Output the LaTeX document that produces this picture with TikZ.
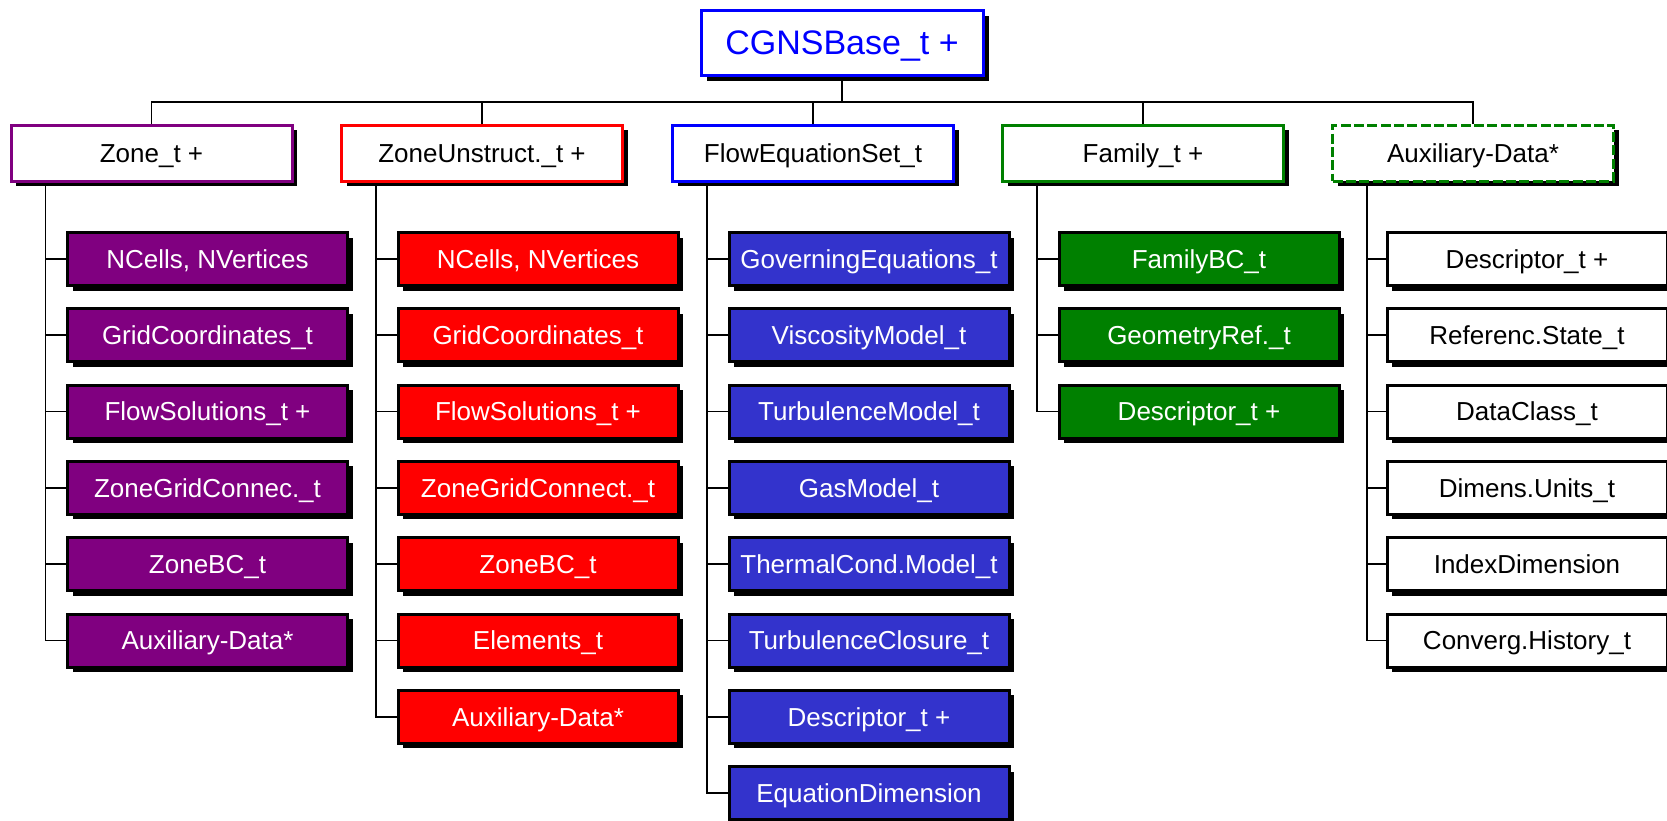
\documentclass[tikz,border=0pt]{standalone}
\usepackage{fontspec}
\setmainfont{Liberation Sans}
\usetikzlibrary{shadows}
\pgfdeclarelayer{background}
\pgfsetlayers{background,main}
\definecolor{zonepurple}{RGB}{128,0,128}
\definecolor{unsred}{RGB}{255,0,0}
\definecolor{flowblue}{RGB}{51,51,204}
\definecolor{famgreen}{RGB}{0,128,0}
\definecolor{rootblue}{RGB}{0,0,255}
\begin{document}
\begin{tikzpicture}[x=0.75pt,y=-0.75pt,
  rootbox/.style={rectangle, inner sep=0pt, line width=2.25pt, draw=rootblue, fill=white,
    text=rootblue, minimum width=211.5pt, minimum height=48.75pt,
    font=\fontsize{25.5}{30}\selectfont, text height=18.3pt, text depth=0pt,
    drop shadow={shadow xshift=4.5pt, shadow yshift=-4.5pt, fill=black, opacity=1}},
  header/.style={rectangle, inner sep=0pt, line width=2.25pt, draw=#1, fill=white,
    text=black, minimum width=210.75pt, minimum height=42pt,
    font=\fontsize{19.5}{23}\selectfont, text height=14pt, text depth=0pt,
    drop shadow={shadow xshift=3.75pt, shadow yshift=-3.75pt, fill=black, opacity=1}},
  kid/.style={rectangle, inner sep=0pt, line width=2.25pt, draw=black, fill=#1,
    text=white, minimum width=210pt, minimum height=39.75pt,
    font=\fontsize{19.5}{23}\selectfont, text height=14pt, text depth=0pt,
    drop shadow={shadow xshift=3.75pt, shadow yshift=-3.75pt, fill=black, opacity=1}},
  link/.style={draw=black, line width=1.3pt}]
\useasboundingbox (0,0) rectangle (1667,821);

% root and the five branches
\node[rootbox] (root) at (842,42.5) {CGNSBase\_t +};
\node[header=zonepurple] (hz) at (151.5,153) {Zone\_t +};
\node[header=unsred] (hu) at (482,153) {ZoneUnstruct.\_t +};
\node[header=rootblue] (hf) at (813,153) {FlowEquationSet\_t};
\node[header=famgreen] (hm) at (1143,153) {Family\_t +};
\node[header=famgreen, dash pattern=on 7.5pt off 2.5pt] (ha) at (1473,153) {Auxiliary-Data*};

% children of each branch
\foreach \lbl [count=\i] in {{NCells, NVertices},GridCoordinates\_t,FlowSolutions\_t +,
    ZoneGridConnec.\_t,ZoneBC\_t,Auxiliary-Data*}
  \node[kid=zonepurple] (z\i) at (207.5,{259+76.3*(\i-1)}) {\lbl};
\foreach \lbl [count=\i] in {{NCells, NVertices},GridCoordinates\_t,FlowSolutions\_t +,
    ZoneGridConnect.\_t,ZoneBC\_t,Elements\_t,Auxiliary-Data*}
  \node[kid=unsred] (u\i) at (538,{259+76.3*(\i-1)}) {\lbl};
\foreach \lbl [count=\i] in {GoverningEquations\_t,ViscosityModel\_t,TurbulenceModel\_t,
    GasModel\_t,ThermalCond.Model\_t,TurbulenceClosure\_t,Descriptor\_t +,EquationDimension}
  \node[kid=flowblue] (f\i) at (869,{259+76.3*(\i-1)}) {\lbl};
\foreach \lbl [count=\i] in {FamilyBC\_t,GeometryRef.\_t,Descriptor\_t +}
  \node[kid=famgreen] (m\i) at (1199,{259+76.3*(\i-1)}) {\lbl};
\foreach \lbl [count=\i] in {Descriptor\_t +,Referenc.State\_t,DataClass\_t,
    Dimens.Units\_t,IndexDimension,Converg.History\_t}
  \node[kid=white, text=black] (a\i) at (1527,{259+76.3*(\i-1)}) {\lbl};

% trunk tops below each branch box
\coordinate (tz) at (45.5,181);
\coordinate (tu) at (376,181);
\coordinate (tf) at (707,181);
\coordinate (tm) at (1037,181);
\coordinate (ta) at (1367,181);
\coordinate (bus) at (842,102);

\begin{pgfonlayer}{background}
  \draw[link] (root.south) -- (bus);
  \foreach \h in {hz,hu,hf,hm,ha}
    \draw[link] (\h.north) |- (bus);
  \draw[link] (tz) |- (z6.west);
  \foreach \i in {1,...,5} \draw[link] (z\i.west) -- (z\i.west -| tz);
  \draw[link] (tu) |- (u7.west);
  \foreach \i in {1,...,6} \draw[link] (u\i.west) -- (u\i.west -| tu);
  \draw[link] (tf) |- (f8.west);
  \foreach \i in {1,...,7} \draw[link] (f\i.west) -- (f\i.west -| tf);
  \draw[link] (tm) |- (m3.west);
  \foreach \i in {1,2} \draw[link] (m\i.west) -- (m\i.west -| tm);
  \draw[link] (ta) |- (a6.west);
  \foreach \i in {1,...,5} \draw[link] (a\i.west) -- (a\i.west -| ta);
\end{pgfonlayer}
\end{tikzpicture}
\end{document}
